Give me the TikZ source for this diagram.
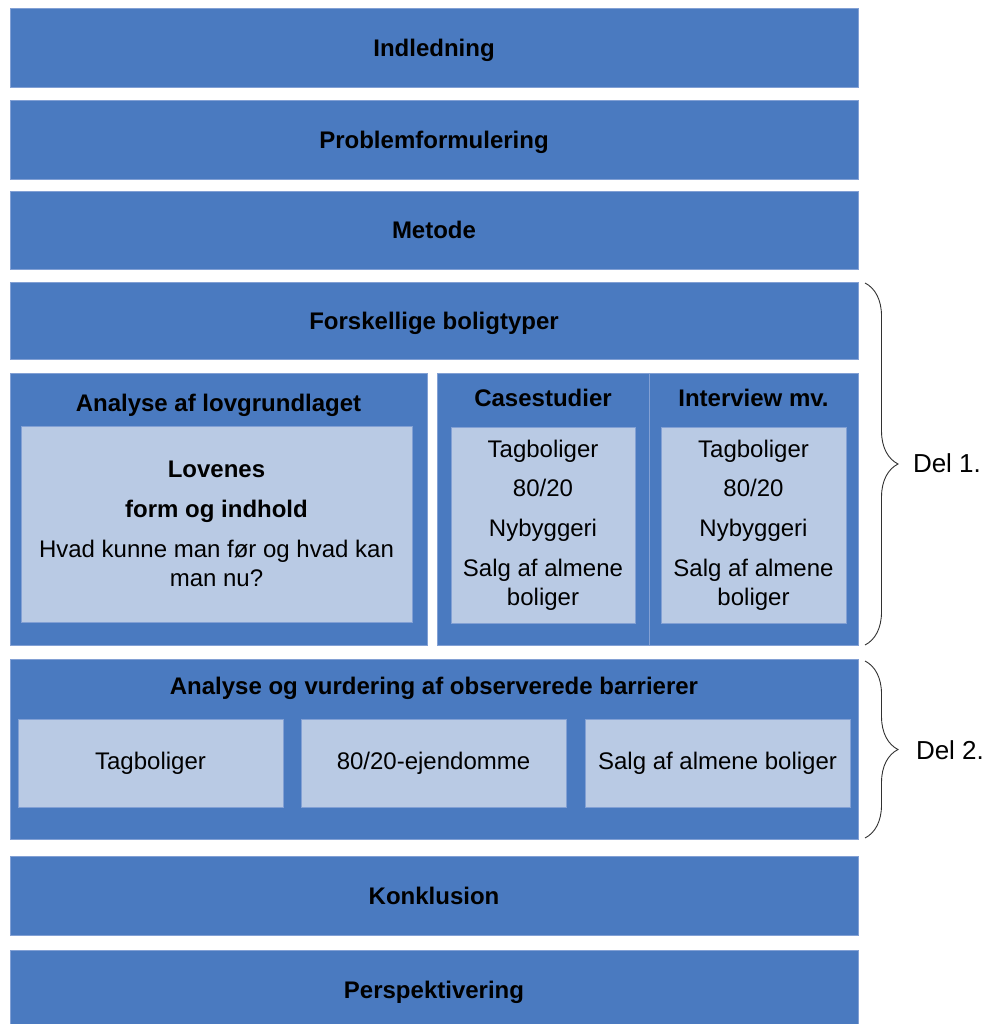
\documentclass[tikz,border=0pt]{standalone}
\usepackage{fontspec}
\setmainfont{Liberation Sans}
\usetikzlibrary{decorations.pathreplacing}
\definecolor{barblue}{RGB}{74,122,192}
\definecolor{cellblue}{RGB}{185,202,228}
\definecolor{edgeblue}{RGB}{130,160,212}
\definecolor{bracegray}{RGB}{50,50,50}
\begin{document}
\begin{tikzpicture}[x=1pt,y=-1pt,
  every node/.style={inner sep=0pt,outer sep=0pt,font=\fontsize{24}{28.8}\selectfont,align=center,text=black},
  bar/.style={fill=barblue,draw=edgeblue,line width=0.8pt},
  cell/.style={fill=cellblue,draw=edgeblue,line width=0.6pt},
  title/.style={font=\fontsize{24}{28.8}\selectfont\bfseries,text depth=0pt},
  partbrace/.style={draw=bracegray,line width=0.9pt,decorate,decoration={brace,amplitude=33pt}},
  partlabel/.style={anchor=west,font=\fontsize{26}{31}\selectfont}
]
\useasboundingbox (0,0) rectangle (990,1024);
\fill[white] (0,0) rectangle (990,1024);

% full-width sections
\node[bar,title,minimum width=848pt,minimum height=79pt] (intro) at (434,47.5) {Indledning};
\node[bar,title,minimum width=848pt,minimum height=79pt] (prob) at (434,139.5) {Problemformulering};
\node[bar,title,minimum width=848pt,minimum height=78pt] (method) at (434,230) {Metode};
\node[bar,title,minimum width=848pt,minimum height=77pt] (types) at (434,320.5) {Forskellige boligtyper};

% part 1: legal analysis, case studies and interviews
\node[bar,minimum width=417pt,minimum height=272pt] (law) at (218.5,509) {};
\node[title] (lawtitle) at (218.5,403) {Analyse af lovgrundlaget};
\node[cell,minimum width=391pt,minimum height=196pt] (lawin) at (216.5,524)
  {\textbf{Lovenes}\\[11pt]\textbf{form og indhold}\\[11pt]Hvad kunne man før og hvad kan\\man nu?};

\node[bar,minimum width=212pt,minimum height=272pt] (cases) at (543,509) {};
\node[title] (casestitle) at (543,398) {Casestudier};
\node[cell,minimum width=184pt,minimum height=196pt] (casesin) at (543,525)
  {Tagboliger\\[11pt]80/20\\[11pt]Nybyggeri\\[11pt]Salg af almene\\boliger};

\node[bar,minimum width=209pt,minimum height=272pt] (intv) at (753.5,509) {};
\node[title] (intvtitle) at (753.5,398) {Interview mv.};
\node[cell,minimum width=185pt,minimum height=196pt] (intvin) at (753.5,525)
  {Tagboliger\\[11pt]80/20\\[11pt]Nybyggeri\\[11pt]Salg af almene\\boliger};

% part 2: observed barriers
\node[bar,minimum width=848pt,minimum height=180pt] (barr) at (434,749) {};
\node[title] (barrtitle) at (434,686) {Analyse og vurdering af observerede barrierer};
\node[cell,minimum width=265pt,minimum height=88pt] (b1) at (150.5,763) {Tagboliger};
\node[cell,minimum width=265pt,minimum height=88pt] (b2) at (433.5,763) {80/20-ejendomme};
\node[cell,minimum width=265pt,minimum height=88pt] (b3) at (717.5,763) {Salg af almene boliger};

% closing sections
\node[bar,title,minimum width=848pt,minimum height=79pt] (concl) at (434,895.5) {Konklusion};
\node[bar,title,minimum width=848pt,minimum height=80pt] (persp) at (434,990) {Perspektivering};

% braces marking the two parts
\coordinate (d1top) at (865,283);
\coordinate (d1bot) at (865,645);
\coordinate (d2top) at (865,661);
\coordinate (d2bot) at (865,838);
\draw[partbrace] (d1top) -- (d1bot);
\draw[partbrace] (d2top) -- (d2bot);
\node[partlabel] (del1) at (913,463) {Del 1.};
\node[partlabel] (del2) at (916,750) {Del 2.};
\end{tikzpicture}
\end{document}
